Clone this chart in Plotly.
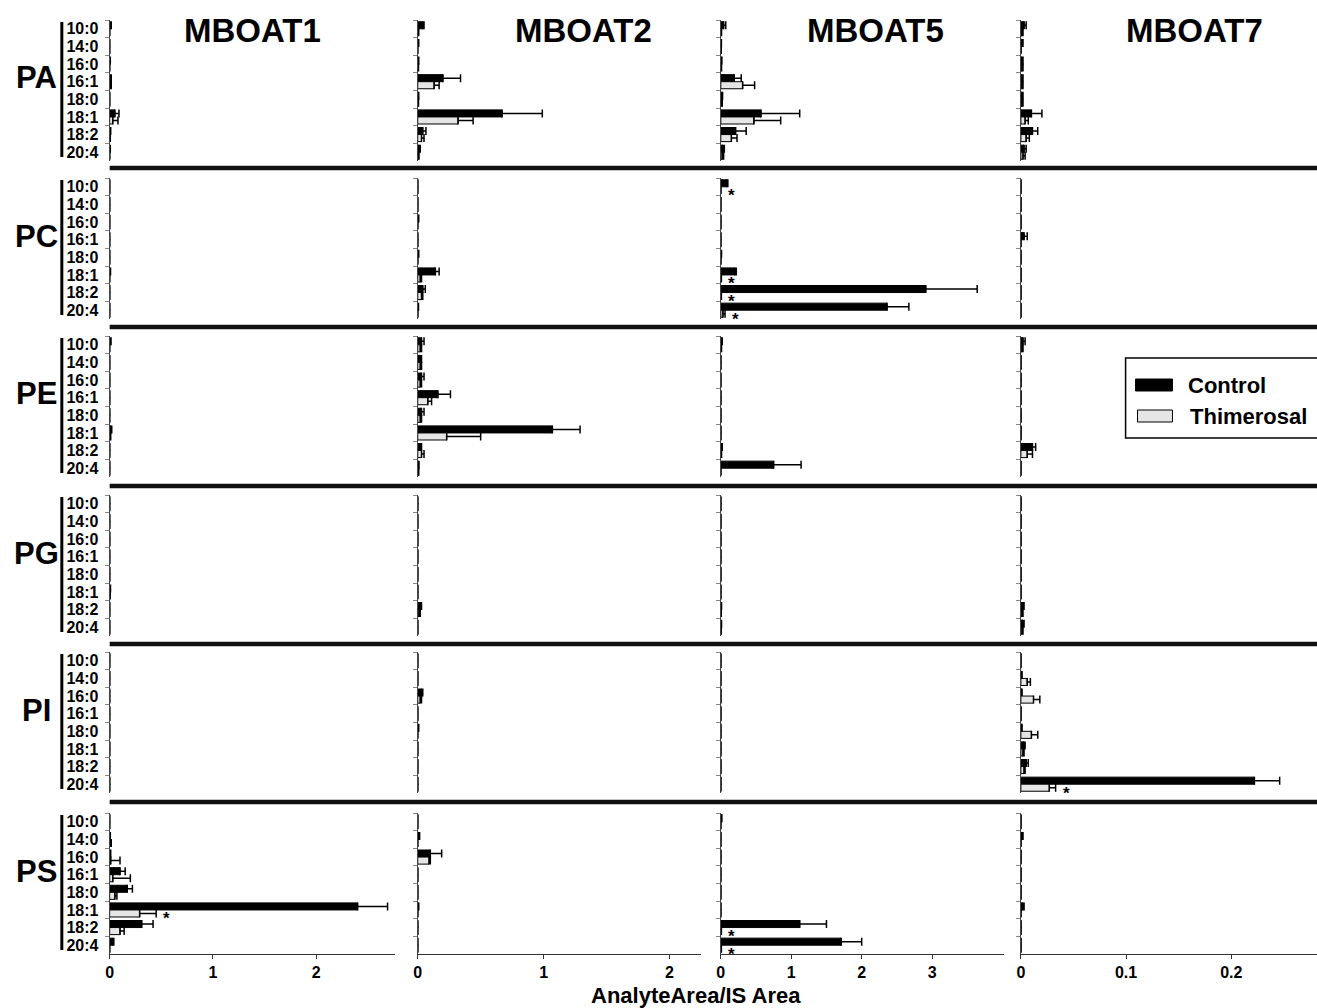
import plotly.graph_objects as go

# ---------------- data ----------------
categories = ["10:0", "14:0", "16:0", "16:1", "18:0", "18:1", "18:2", "20:4"]
enzymes = ["MBOAT1", "MBOAT2", "MBOAT5", "MBOAT7"]
lipid_classes = ["PA", "PC", "PE", "PG", "PI", "PS"]
x_tick_vals = [[0, 1, 2], [0, 1, 2], [0, 1, 2, 3], [0, 0.1, 0.2]]
x_tick_text = [["0", "1", "2"], ["0", "1", "2"], ["0", "1", "2", "3"], ["0", "0.1", "0.2"]]
x_title = "AnalyteArea/IS Area"
series_names = ["Control", "Thimerosal"]

# each list: one row of 8 values per enzyme (MBOAT1, MBOAT2, MBOAT5, MBOAT7)
PA_control = [[0.005, 0, 0.003, 0.005, 0, 0.05, 0.005, 0.003],
              [0.04, 0.005, 0.005, 0.20, 0.005, 0.67, 0.04, 0.01],
              [0.04, 0.005, 0.01, 0.19, 0.02, 0.57, 0.21, 0.03],
              [0.003, 0.001, 0.001, 0.001, 0.001, 0.010, 0.011, 0.003]]
PA_control_err = [[0.01, 0, 0.003, 0.01, 0, 0.04, 0.005, 0.003],
                  [0.01, 0.003, 0.003, 0.14, 0.003, 0.32, 0.025, 0.01],
                  [0.03, 0.003, 0.005, 0.10, 0.005, 0.55, 0.15, 0.02],
                  [0.002, 0.001, 0.001, 0.001, 0.001, 0.010, 0.005, 0.002]]
PA_thim = [[0, 0, 0, 0.005, 0, 0.03, 0.003, 0],
           [0.005, 0, 0.003, 0.13, 0.003, 0.32, 0.03, 0.005],
           [0.005, 0.003, 0.005, 0.31, 0.01, 0.47, 0.15, 0.02],
           [0.001, 0, 0.001, 0.001, 0.001, 0.004, 0.005, 0.002]]
PA_thim_err = [[0, 0, 0, 0.01, 0, 0.05, 0.003, 0],
               [0.003, 0, 0.003, 0.04, 0.003, 0.12, 0.02, 0.005],
               [0.005, 0.003, 0.005, 0.17, 0.01, 0.38, 0.08, 0.02],
               [0.001, 0, 0.001, 0.001, 0.001, 0.003, 0.003, 0.002]]

PC_control = [[0, 0, 0, 0, 0, 0.003, 0, 0],
              [0, 0, 0.005, 0, 0.005, 0.14, 0.04, 0.003],
              [0.09, 0, 0, 0, 0.005, 0.20, 2.91, 2.36],
              [0, 0, 0, 0.003, 0, 0, 0, 0]]
PC_control_err = [[0, 0, 0, 0, 0, 0.005, 0, 0],
                  [0, 0, 0.003, 0, 0.003, 0.03, 0.02, 0.003],
                  [0.01, 0, 0, 0, 0.005, 0.02, 0.73, 0.31],
                  [0, 0, 0, 0.003, 0, 0, 0, 0]]
PC_thim = [[0, 0, 0, 0, 0, 0, 0, 0],
           [0, 0, 0, 0, 0, 0.02, 0.03, 0],
           [0, 0, 0, 0, 0, 0.005, 0.005, 0.03],
           [0, 0, 0, 0, 0, 0, 0, 0]]
PC_thim_err = [[0, 0, 0, 0, 0, 0, 0, 0],
               [0, 0, 0, 0, 0, 0.01, 0.01, 0],
               [0, 0, 0, 0, 0, 0.003, 0.003, 0.03],
               [0, 0, 0, 0, 0, 0, 0, 0]]

PE_control = [[0.003, 0, 0, 0, 0, 0.01, 0, 0],
              [0.03, 0.02, 0.03, 0.16, 0.03, 1.07, 0.02, 0.005],
              [0.01, 0, 0, 0, 0, 0, 0.01, 0.75],
              [0.002, 0, 0, 0, 0, 0, 0.011, 0]]
PE_control_err = [[0.01, 0, 0, 0, 0, 0.01, 0, 0],
                  [0.02, 0.01, 0.02, 0.10, 0.02, 0.22, 0.01, 0.005],
                  [0.01, 0, 0, 0, 0, 0, 0.01, 0.39],
                  [0.002, 0, 0, 0, 0, 0, 0.003, 0]]
PE_thim = [[0, 0, 0, 0, 0, 0.005, 0, 0],
           [0.02, 0.02, 0.02, 0.08, 0.02, 0.23, 0.03, 0.005],
           [0.005, 0, 0, 0, 0, 0, 0.005, 0],
           [0.001, 0, 0, 0, 0, 0, 0.006, 0]]
PE_thim_err = [[0, 0, 0, 0, 0, 0.005, 0, 0],
               [0.01, 0.01, 0.01, 0.03, 0.01, 0.27, 0.02, 0.003],
               [0.005, 0, 0, 0, 0, 0, 0.005, 0],
               [0.001, 0, 0, 0, 0, 0, 0.005, 0]]

PG_control = [[0, 0, 0, 0, 0, 0.003, 0, 0],
              [0, 0, 0, 0, 0, 0, 0.02, 0],
              [0, 0, 0, 0, 0, 0, 0.005, 0.005],
              [0, 0, 0, 0, 0, 0, 0.002, 0.002]]
PG_control_err = [[0, 0, 0, 0, 0, 0.005, 0, 0],
                  [0, 0, 0, 0, 0, 0, 0.01, 0],
                  [0, 0, 0, 0, 0, 0, 0.005, 0.005],
                  [0, 0, 0, 0, 0, 0, 0.001, 0.001]]
PG_thim = [[0, 0, 0, 0, 0, 0.002, 0, 0],
           [0, 0, 0, 0, 0, 0, 0.01, 0],
           [0, 0, 0, 0, 0, 0, 0.003, 0.003],
           [0, 0, 0, 0, 0, 0, 0.001, 0.001]]
PG_thim_err = [[0, 0, 0, 0, 0, 0.003, 0, 0],
               [0, 0, 0, 0, 0, 0, 0.01, 0],
               [0, 0, 0, 0, 0, 0, 0.003, 0.003],
               [0, 0, 0, 0, 0, 0, 0.001, 0.001]]

PI_control = [[0, 0, 0, 0, 0, 0, 0, 0],
              [0, 0, 0.03, 0, 0.005, 0, 0, 0],
              [0, 0, 0, 0, 0, 0, 0, 0],
              [0, 0.001, 0.001, 0, 0.001, 0.003, 0.005, 0.222]]
PI_control_err = [[0, 0, 0, 0, 0, 0, 0, 0],
                  [0, 0, 0.01, 0, 0.003, 0, 0, 0],
                  [0, 0, 0, 0, 0, 0, 0, 0],
                  [0, 0, 0, 0, 0, 0.001, 0.002, 0.024]]
PI_thim = [[0, 0, 0, 0, 0, 0, 0, 0],
           [0, 0, 0.02, 0, 0, 0, 0, 0],
           [0, 0, 0, 0, 0, 0, 0, 0],
           [0, 0.006, 0.012, 0, 0.010, 0.002, 0.003, 0.027]]
PI_thim_err = [[0, 0, 0, 0, 0, 0, 0, 0],
               [0, 0, 0.01, 0, 0, 0, 0, 0],
               [0, 0, 0, 0, 0, 0, 0, 0],
               [0, 0.003, 0.006, 0, 0.006, 0.001, 0.001, 0.006]]

PS_control = [[0, 0.003, 0.005, 0.10, 0.17, 2.40, 0.31, 0.03],
              [0, 0.01, 0.10, 0, 0, 0.005, 0, 0],
              [0.01, 0, 0, 0, 0, 0, 1.12, 1.71],
              [0, 0.001, 0, 0, 0, 0.002, 0, 0]]
PS_control_err = [[0, 0.003, 0.005, 0.05, 0.05, 0.29, 0.11, 0.01],
                  [0, 0.005, 0.09, 0, 0, 0.003, 0, 0],
                  [0.005, 0, 0, 0, 0, 0, 0.38, 0.29],
                  [0, 0.001, 0, 0, 0, 0.001, 0, 0]]
PS_thim = [[0, 0.005, 0.01, 0.03, 0.05, 0.29, 0.10, 0],
           [0, 0, 0.09, 0, 0, 0, 0, 0],
           [0, 0, 0, 0, 0, 0, 0.005, 0.005],
           [0, 0, 0, 0, 0, 0, 0, 0]]
PS_thim_err = [[0, 0.01, 0.09, 0.17, 0.02, 0.16, 0.04, 0],
               [0, 0, 0.01, 0, 0, 0, 0, 0],
               [0, 0, 0, 0, 0, 0, 0.003, 0.003],
               [0, 0, 0, 0, 0, 0, 0, 0]]

# significance markers (*): (lipid class, enzyme, species)
significant = [("PC", "MBOAT5", "10:0"), ("PC", "MBOAT5", "18:1"),
               ("PC", "MBOAT5", "18:2"), ("PC", "MBOAT5", "20:4"),
               ("PI", "MBOAT7", "20:4"), ("PS", "MBOAT1", "18:1"),
               ("PS", "MBOAT5", "18:2"), ("PS", "MBOAT5", "20:4")]

control_by_class = {"PA": (PA_control, PA_control_err), "PC": (PC_control, PC_control_err),
                    "PE": (PE_control, PE_control_err), "PG": (PG_control, PG_control_err),
                    "PI": (PI_control, PI_control_err), "PS": (PS_control, PS_control_err)}
thim_by_class = {"PA": (PA_thim, PA_thim_err), "PC": (PC_thim, PC_thim_err),
                 "PE": (PE_thim, PE_thim_err), "PG": (PG_thim, PG_thim_err),
                 "PI": (PI_thim, PI_thim_err), "PS": (PS_thim, PS_thim_err)}

# ---------------- layout geometry (pixels) ----------------
W, H = 1317, 1008
col_px = [(106, 392), (415, 699), (719, 1003), (1020, 1317)]
x_max = [2.76, 2.25, 4.02, 0.2815]
row_top = [20, 178, 336, 495, 652, 813]
row_h = 141
sep_y = [168, 327, 486, 644, 802]
FONT = "Liberation Sans, Arial, sans-serif"


def px(x):
    return x / W


def py(y):
    return 1 - y / H


fig = go.Figure()
layout_axes = {}
annotations = []
shapes = []

for r, cls in enumerate(lipid_classes):
    ctrl, ctrl_err = control_by_class[cls]
    thim, thim_err = thim_by_class[cls]
    for c, enz in enumerate(enzymes):
        k = r * 4 + c + 1
        xs = "x" if k == 1 else f"x{k}"
        ys = "y" if k == 1 else f"y{k}"
        xname = "xaxis" if k == 1 else f"xaxis{k}"
        yname = "yaxis" if k == 1 else f"yaxis{k}"
        fig.add_trace(go.Bar(
            y=categories, x=ctrl[c], orientation="h", name=series_names[0],
            marker=dict(color="black", line=dict(color="black", width=1)),
            error_x=dict(type="data", symmetric=False, array=ctrl_err[c],
                         arrayminus=[0] * len(categories), color="black",
                         thickness=1.5, width=4),
            xaxis=xs, yaxis=ys, showlegend=False))
        fig.add_trace(go.Bar(
            y=categories, x=thim[c], orientation="h", name=series_names[1],
            marker=dict(color="#e6e6e6", line=dict(color="black", width=1)),
            error_x=dict(type="data", symmetric=False, array=thim_err[c],
                         arrayminus=[0] * len(categories), color="black",
                         thickness=1.5, width=4),
            xaxis=xs, yaxis=ys, showlegend=False))
        bottom = (r == len(lipid_classes) - 1)
        x0, x1 = col_px[c]
        layout_axes[xname] = dict(
            domain=[px(x0), min(px(x1), 1.0)], anchor=ys, range=[0, x_max[c]],
            showgrid=False, zeroline=False,
            showline=bottom, linecolor="#333", linewidth=1,
            ticks="outside" if bottom else "", ticklen=4, tickcolor="#333",
            showticklabels=bottom, tickmode="array",
            tickvals=x_tick_vals[c], ticktext=x_tick_text[c],
            tickfont=dict(family=FONT, size=16, color="black", weight="bold"),
            fixedrange=True)
        layout_axes[yname] = dict(
            domain=[py(row_top[r] + row_h), py(row_top[r])], anchor=xs,
            type="category", categoryorder="array", categoryarray=categories,
            range=[len(categories) - 0.5, -0.5],
            tickmode="linear", tick0=0, dtick=1,
            showgrid=False, zeroline=False, showline=True, linecolor="#444",
            linewidth=1, ticks="outside", tickson="boundaries", ticklen=4,
            tickcolor="#888", showticklabels=(c == 0), ticklabelstandoff=7,
            tickfont=dict(family=FONT, size=16, color="black", weight="bold"),
            fixedrange=True)
    # row label
    annotations.append(dict(xref="paper", yref="paper", x=px(33), y=py(row_top[r] + 58),
                            text=cls, showarrow=False, xanchor="center", yanchor="middle",
                            font=dict(family=FONT, size=31, color="black", weight="bold")))
    # thick bracket line left of species labels
    shapes.append(dict(type="line", xref="paper", yref="paper",
                       x0=px(58), x1=px(58), y0=py(row_top[r] + 2), y1=py(row_top[r] + 137),
                       line=dict(color="black", width=3)))

# separators between lipid classes
for y in sep_y:
    shapes.append(dict(type="line", xref="paper", yref="paper",
                       x0=px(106), x1=1.0, y0=py(y), y1=py(y),
                       line=dict(color="#111", width=4.5)))

# column titles
title_x = [249, 581, 874, 1194]
for c, enz in enumerate(enzymes):
    annotations.append(dict(xref="paper", yref="paper", x=px(title_x[c]), y=py(30),
                            text=enz, showarrow=False, xanchor="center", yanchor="middle",
                            font=dict(family=FONT, size=33, color="black", weight="bold")))

# x axis title
annotations.append(dict(xref="paper", yref="paper", x=px(694), y=py(995), text=x_title,
                        showarrow=False, xanchor="center", yanchor="middle",
                        font=dict(family=FONT, size=22, color="black", weight="bold")))

# significance stars
for cls, enz, sp in significant:
    r = lipid_classes.index(cls)
    c = enzymes.index(enz)
    i = categories.index(sp)
    k = r * 4 + c + 1
    thim, thim_err = thim_by_class[cls]
    xpos = thim[c][i] + thim_err[c][i]
    annotations.append(dict(xref="x" if k == 1 else f"x{k}", yref="y" if k == 1 else f"y{k}",
                            x=xpos, y=sp, text="*", showarrow=False,
                            xanchor="left", yanchor="middle", xshift=5, yshift=-9,
                            font=dict(family=FONT, size=17, color="black", weight="bold")))

# legend (drawn manually)
shapes.append(dict(type="rect", xref="paper", yref="paper", x0=px(1125), x1=px(1330),
                   y0=py(438), y1=py(358), line=dict(color="black", width=1.5),
                   fillcolor="white"))
shapes.append(dict(type="rect", xref="paper", yref="paper", x0=px(1135), x1=px(1172),
                   y0=py(391), y1=py(379), line=dict(color="black", width=1),
                   fillcolor="black"))
shapes.append(dict(type="rect", xref="paper", yref="paper", x0=px(1137), x1=px(1172),
                   y0=py(422), y1=py(410), line=dict(color="black", width=1),
                   fillcolor="#e6e6e6"))
annotations.append(dict(xref="paper", yref="paper", x=px(1186), y=py(385), text=series_names[0],
                        showarrow=False, xanchor="left", yanchor="middle",
                        font=dict(family=FONT, size=22, color="black", weight="bold")))
annotations.append(dict(xref="paper", yref="paper", x=px(1188), y=py(416), text=series_names[1],
                        showarrow=False, xanchor="left", yanchor="middle",
                        font=dict(family=FONT, size=22, color="black", weight="bold")))

fig.update_layout(
    width=W, height=H, autosize=False,
    margin=dict(l=0, r=0, t=0, b=0),
    paper_bgcolor="white", plot_bgcolor="white",
    barmode="group", bargap=0.2, bargroupgap=0,
    font=dict(family=FONT, color="black"),
    annotations=annotations, shapes=shapes,
    **layout_axes)

fig.write_html("out.html", post_script="document.body.style.margin='0';",
               config={"displayModeBar": False})
